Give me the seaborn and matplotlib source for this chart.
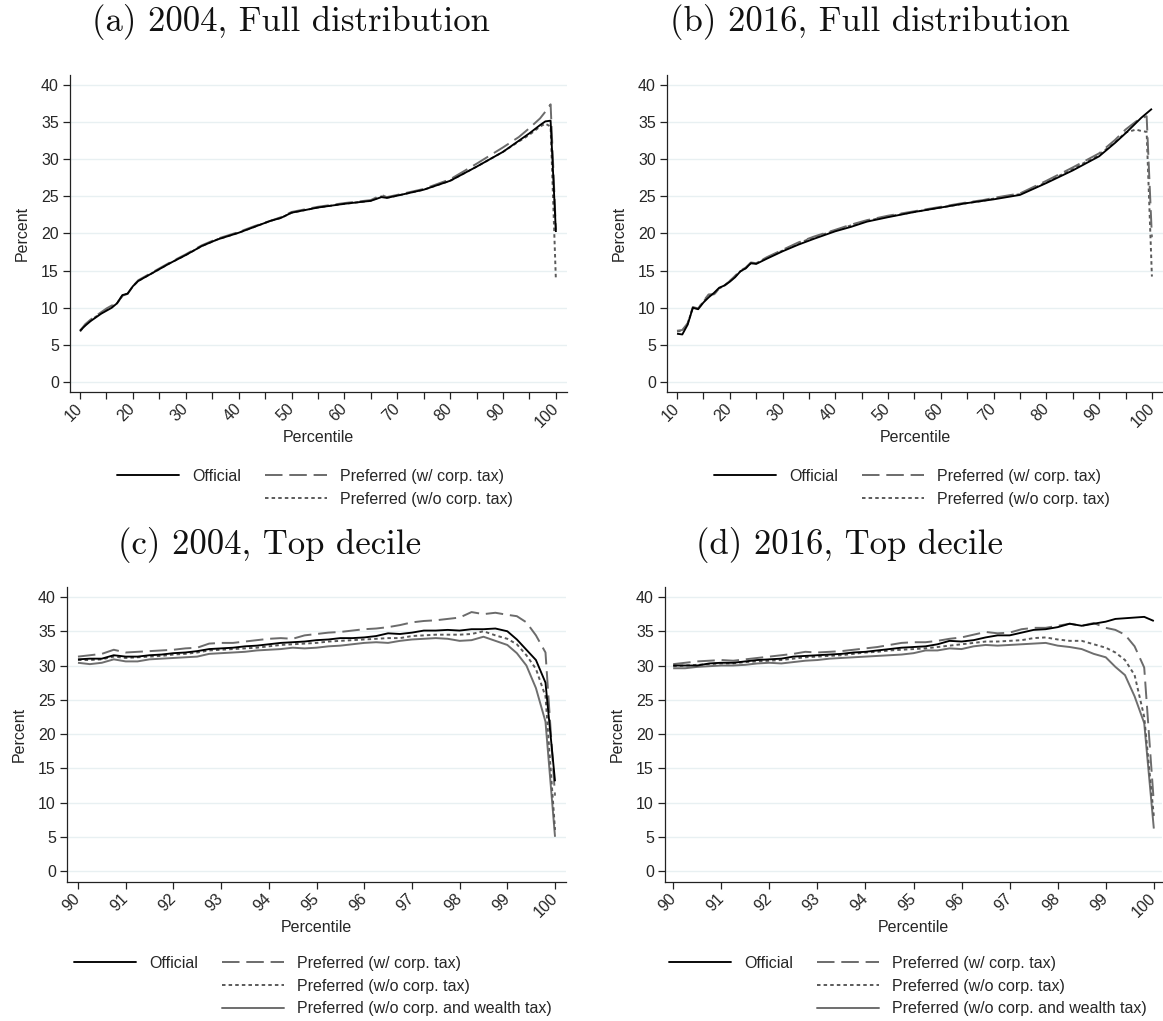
import numpy as np
import pandas as pd
import matplotlib
matplotlib.use("Agg")
import matplotlib.pyplot as plt
import seaborn as sns
from matplotlib.lines import Line2D
from matplotlib.ticker import FixedLocator

sns.set_theme(style="white")
plt.rcParams["font.family"] = ["Liberation Sans", "DejaVu Sans"]

# ---------------- data ----------------
top_x = [10, 11, 12, 13, 14, 15, 16, 17, 18, 19, 20, 21, 22, 23, 24, 25, 27, 30, 33, 36,
         40, 43, 46, 48, 50, 55, 60, 65, 67, 68, 70, 75, 80, 85, 90, 93, 95, 97, 98, 99, 100]

a_official = [6.9, 7.6, 8.2, 8.7, 9.2, 9.6, 10.0, 10.6, 11.7, 11.9, 12.9, 13.6, 14.0, 14.4, 14.8, 15.2,
              16.0, 17.1, 18.3, 19.2, 20.1, 20.9, 21.7, 22.1, 22.8, 23.5, 24.0, 24.4, 24.9, 24.8, 25.1,
              25.9, 27.1, 29.0, 31.0, 32.5, 33.5, 34.6, 35.1, 35.2, 20.2]
a_with_corp = [6.9, 7.8, 8.4, 8.9, 9.4, 9.9, 10.3, 10.6, 11.6, 11.9, 12.9, 13.7, 14.1, 14.5, 14.9, 15.3,
               16.1, 17.2, 18.4, 19.3, 20.2, 21.0, 21.7, 22.2, 22.9, 23.6, 24.1, 24.5, 25.2, 24.9, 25.2,
               26.0, 27.3, 29.4, 31.6, 33.0, 34.2, 35.5, 36.4, 37.4, 20.5]
a_without_corp = [6.8, 7.7, 8.3, 8.8, 9.3, 9.8, 10.2, 10.6, 11.6, 11.9, 12.9, 13.6, 14.0, 14.4, 14.8, 15.2,
                  16.0, 17.1, 18.3, 19.2, 20.1, 20.9, 21.7, 22.1, 22.8, 23.5, 24.0, 24.4, 25.0, 24.8, 25.1,
                  25.9, 27.1, 29.0, 31.0, 32.4, 33.3, 34.4, 34.8, 34.4, 13.7]

b_official = [6.5, 6.4, 7.7, 10.0, 9.8, 10.7, 11.4, 12.0, 12.7, 13.0, 13.5, 14.1, 14.9, 15.3, 16.0, 15.9,
              16.6, 17.6, 18.5, 19.3, 20.3, 20.9, 21.6, 21.9, 22.2, 22.9, 23.5, 24.1, 24.3, 24.4, 24.6,
              25.2, 26.8, 28.5, 30.4, 32.2, 33.5, 34.9, 35.6, 36.2, 36.8]
b_with_corp = [6.9, 7.0, 7.9, 10.1, 9.9, 10.9, 11.8, 11.8, 12.6, 13.0, 13.6, 14.3, 15.0, 15.4, 16.1, 16.0,
               16.8, 17.8, 18.8, 19.6, 20.5, 21.2, 21.8, 22.1, 22.4, 23.0, 23.6, 24.2, 24.4, 24.5, 24.8,
               25.4, 27.1, 28.9, 30.8, 32.6, 34.0, 35.1, 35.5, 35.8, 19.5]
b_without_corp = [6.8, 6.9, 7.8, 10.0, 9.9, 10.8, 11.7, 11.8, 12.6, 13.0, 13.6, 14.2, 14.9, 15.3, 16.0, 16.0,
                  16.7, 17.7, 18.7, 19.5, 20.4, 21.1, 21.7, 22.0, 22.3, 22.9, 23.5, 24.1, 24.3, 24.4, 24.7,
                  25.3, 26.9, 28.7, 30.6, 32.3, 33.6, 34.0, 33.8, 33.7, 14.2]

bot_x = [90.0, 90.25, 90.5, 90.75, 91.0, 91.25, 91.5, 91.75, 92.0, 92.25, 92.5, 92.75, 93.0, 93.25,
         93.5, 93.75, 94.0, 94.25, 94.5, 94.75, 95.0, 95.25, 95.5, 95.75, 96.0, 96.25, 96.5, 96.75,
         97.0, 97.25, 97.5, 97.75, 98.0, 98.25, 98.5, 98.75, 99.0, 99.2, 99.4, 99.6, 99.8, 100.0]

c_official = [30.9, 31.0, 31.0, 31.5, 31.3, 31.3, 31.5, 31.6, 31.8, 31.9, 32.1, 32.4, 32.5, 32.6,
              32.8, 32.9, 33.1, 33.3, 33.4, 33.5, 33.7, 33.8, 34.0, 34.0, 34.1, 34.3, 34.7, 34.6,
              34.8, 35.1, 35.1, 35.2, 35.1, 35.3, 35.3, 35.4, 35.0, 33.8, 32.3, 30.8, 27.5, 13.1]
c_with_corp = [31.3, 31.5, 31.7, 32.3, 31.9, 32.0, 32.1, 32.2, 32.3, 32.5, 32.6, 33.2, 33.3, 33.3,
               33.5, 33.7, 33.9, 34.0, 33.9, 34.4, 34.6, 34.8, 34.9, 35.1, 35.3, 35.4, 35.6, 35.9,
               36.3, 36.5, 36.6, 36.8, 37.0, 37.8, 37.5, 37.7, 37.4, 37.2, 36.3, 34.4, 31.9, 11.0]
c_without_corp = [30.8, 30.8, 30.9, 31.3, 31.1, 31.2, 31.3, 31.4, 31.6, 31.7, 31.9, 32.2, 32.3, 32.4,
                  32.5, 32.6, 32.8, 33.0, 33.1, 33.2, 33.3, 33.5, 33.6, 33.7, 33.8, 33.9, 34.0, 34.0,
                  34.3, 34.4, 34.5, 34.5, 34.5, 34.6, 35.0, 34.4, 33.9, 33.1, 31.5, 29.5, 25.5, 6.0]
c_without_wealth = [30.4, 30.2, 30.4, 30.9, 30.6, 30.6, 30.9, 31.0, 31.1, 31.2, 31.3, 31.7, 31.8, 31.9,
                    32.0, 32.2, 32.3, 32.4, 32.6, 32.5, 32.6, 32.8, 32.9, 33.1, 33.3, 33.4, 33.3, 33.6,
                    33.8, 33.9, 34.0, 33.9, 33.6, 33.7, 34.2, 33.6, 33.0, 31.8, 30.0, 26.7, 21.8, 5.0]

d_official = [30.0, 30.0, 30.0, 30.3, 30.4, 30.4, 30.6, 30.8, 30.9, 31.0, 31.3, 31.4, 31.5, 31.6,
              31.7, 31.9, 32.0, 32.2, 32.4, 32.6, 32.7, 32.8, 33.1, 33.6, 33.5, 33.7, 34.1, 34.4,
              34.4, 34.8, 35.2, 35.3, 35.6, 36.1, 35.8, 36.1, 36.4, 36.8, 36.9, 37.0, 37.1, 36.5]
d_with_corp = [30.2, 30.4, 30.6, 30.7, 30.8, 30.7, 30.9, 31.1, 31.3, 31.5, 31.7, 32.0, 31.9, 32.0,
               32.1, 32.3, 32.5, 32.7, 33.0, 33.3, 33.4, 33.4, 33.6, 33.9, 34.1, 34.5, 34.9, 34.7,
               34.8, 35.3, 35.5, 35.5, 35.8, 36.1, 35.8, 36.2, 35.5, 35.2, 34.5, 32.8, 29.7, 10.0]
d_without_corp = [29.9, 30.0, 30.1, 30.2, 30.3, 30.3, 30.5, 30.6, 30.7, 30.8, 31.0, 31.2, 31.3, 31.4,
                  31.5, 31.7, 31.9, 32.0, 32.2, 32.3, 32.4, 32.5, 32.7, 32.9, 33.1, 33.3, 33.5, 33.5,
                  33.6, 33.7, 34.0, 34.1, 33.8, 33.6, 33.6, 33.1, 32.6, 31.9, 30.8, 28.6, 22.5, 8.0]
d_without_wealth = [29.6, 29.6, 29.8, 29.9, 30.0, 30.0, 30.1, 30.3, 30.4, 30.3, 30.5, 30.7, 30.8, 31.0,
                    31.1, 31.2, 31.3, 31.4, 31.5, 31.6, 31.8, 32.2, 32.2, 32.5, 32.4, 32.8, 33.0, 32.9,
                    33.0, 33.1, 33.2, 33.3, 32.9, 32.7, 32.4, 31.7, 31.2, 29.8, 28.6, 25.5, 21.6, 6.2]

panel_titles = ["(a) 2004, Full distribution", "(b) 2016, Full distribution",
                "(c) 2004, Top decile", "(d) 2016, Top decile"]
legend_labels = ["Official", "Preferred (w/ corp. tax)", "Preferred (w/o corp. tax)",
                 "Preferred (w/o corp. and wealth tax)"]
top_ticks = [10, 20, 30, 40, 50, 60, 70, 80, 90, 100]
top_minor = [15, 25, 35, 45, 55, 65, 75, 85, 95]
bot_ticks = [90, 91, 92, 93, 94, 95, 96, 97, 98, 99, 100]
y_ticks = [0, 5, 10, 15, 20, 25, 30, 35, 40]

# ---------------- styles ----------------
STY = {
    "Official": dict(color="#000000", lw=1.35, dashes=None),
    "Preferred (w/ corp. tax)": dict(color="#6b6b6b", lw=1.4, dashes=(9, 3.5)),
    "Preferred (w/o corp. tax)": dict(color="#5a5a5a", lw=1.4, dashes=(1.8, 1.6)),
    "Preferred (w/o corp. and wealth tax)": dict(color="#6e6e6e", lw=1.4, dashes=None),
}
GRID = "#e8f0f2"
FS = 11.5

W, H = 1163, 1021
fig = plt.figure(figsize=(W / 100, H / 100), dpi=100)


def px_axes(l, t, r, b):
    return fig.add_axes([l / W, 1 - b / H, (r - l) / W, (b - t) / H])


def draw_panel(ax, x, series, xlim, ylim, ticks, minor, title, title_xy, leg_xy):
    order = list(series.keys())
    draw_order = order[1:][::-1] + [order[0]]
    for name in draw_order:
        st = STY[name]
        df = pd.DataFrame({"Percentile": x, "Percent": series[name]})
        sns.lineplot(data=df, x="Percentile", y="Percent", ax=ax, color=st["color"],
                     linewidth=st["lw"], errorbar=None, sort=False, estimator=None)
        ln = ax.lines[-1]
        if st["dashes"] is not None:
            ln.set_dashes(st["dashes"])
        ln.set_solid_capstyle("butt")
        ln.set_dash_capstyle("butt")
    ax.set_xlim(*xlim)
    ax.set_ylim(*ylim)
    ax.set_yticks(y_ticks)
    ax.set_yticklabels([str(v) for v in y_ticks], fontsize=FS)
    ax.xaxis.set_major_locator(FixedLocator(ticks))
    ax.set_xticklabels([str(v) for v in ticks], fontsize=FS, rotation=45,
                       ha="right", va="center", rotation_mode="anchor")
    if minor:
        ax.xaxis.set_minor_locator(FixedLocator(minor))
        ax.tick_params(axis="x", which="minor", bottom=True, length=5, width=0.9,
                       color="#222222", direction="out")
    ax.tick_params(axis="both", which="major", length=5, width=0.9, color="#222222",
                   direction="out", bottom=True, left=True, pad=3)
    ax.tick_params(axis="x", which="major", pad=5)
    ax.yaxis.grid(True, color=GRID, linewidth=1.0)
    ax.xaxis.grid(False)
    ax.set_axisbelow(True)
    for s in ["top", "right"]:
        ax.spines[s].set_visible(False)
    for s in ["left", "bottom"]:
        ax.spines[s].set_color("#222222")
        ax.spines[s].set_linewidth(0.9)
    ax.set_xlabel("Percentile", fontsize=FS, labelpad=0)
    ax.set_ylabel("Percent", fontsize=FS, labelpad=8)
    fig.text(title_xy[0] / W, 1 - title_xy[1] / H, title, family="cmr10",
             fontsize=25, ha="center", va="center", color="#111111")
    # legend: first column Official, second column the preferred measures
    n_pref = len(order) - 1
    blank = Line2D([], [], color="none")
    handles = [Line2D([], [], color=STY[order[0]]["color"], lw=STY[order[0]]["lw"])]
    labels = [order[0]]
    handles += [blank] * (n_pref - 1)
    labels += [""] * (n_pref - 1)
    for name in order[1:]:
        st = STY[name]
        h = Line2D([], [], color=st["color"], lw=st["lw"])
        if st["dashes"] is not None:
            h.set_dashes(st["dashes"])
        handles.append(h)
        labels.append(name)
    ax.legend(handles, labels, ncol=2, loc="center",
              bbox_to_anchor=(leg_xy[0] / W, 1 - leg_xy[1] / H),
              bbox_transform=fig.transFigure, frameon=False, fontsize=FS,
              handlelength=3.9, handletextpad=0.8, columnspacing=1.5, labelspacing=0.5)


ax_a = px_axes(70, 75, 567, 392)
draw_panel(ax_a, top_x,
           {legend_labels[0]: a_official, legend_labels[1]: a_with_corp, legend_labels[2]: a_without_corp},
           (8.1, 102.1), (-1.35, 41.35), top_ticks, top_minor, panel_titles[0], (291, 22), (315, 488))

ax_b = px_axes(667, 75, 1163, 392)
draw_panel(ax_b, top_x,
           {legend_labels[0]: b_official, legend_labels[1]: b_with_corp, legend_labels[2]: b_without_corp},
           (8.1, 102.1), (-1.35, 41.35), top_ticks, top_minor, panel_titles[1], (870, 22), (912, 488))

ax_c = px_axes(67, 587, 566, 882)
draw_panel(ax_c, bot_x,
           {legend_labels[0]: c_official, legend_labels[1]: c_with_corp, legend_labels[2]: c_without_corp,
            legend_labels[3]: c_without_wealth},
           (89.77, 100.23), (-1.6, 41.46), bot_ticks, None, panel_titles[2], (270, 545), (313, 986))

ax_d = px_axes(665, 587, 1162, 882)
draw_panel(ax_d, bot_x,
           {legend_labels[0]: d_official, legend_labels[1]: d_with_corp, legend_labels[2]: d_without_corp,
            legend_labels[3]: d_without_wealth},
           (89.83, 100.17), (-1.6, 41.46), bot_ticks, None, panel_titles[3], (849, 545), (908, 986))

fig.savefig("out.png", dpi=100, facecolor="white")
